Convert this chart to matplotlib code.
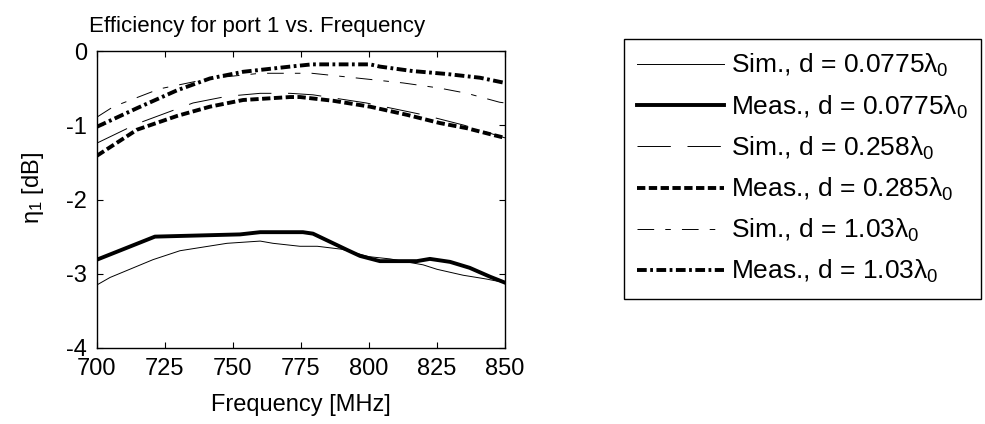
import numpy as np
import matplotlib.pyplot as plt

plt.rcParams['font.family'] = ['Liberation Sans', 'DejaVu Sans']
plt.rcParams['mathtext.fontset'] = 'custom'
plt.rcParams['mathtext.rm'] = 'Liberation Sans'
plt.rcParams['mathtext.it'] = 'Liberation Sans'
plt.rcParams['lines.scale_dashes'] = False
plt.rcParams['axes.unicode_minus'] = False

# Meas., d = 0.0775 lambda0
f_meas_a = [700, 721.3, 752.6, 760, 775.7, 779.4, 792, 796.7, 804, 817.6, 822.4, 829.8, 837, 844.5, 850]
e_meas_a = [-2.81, -2.50, -2.47, -2.44, -2.44, -2.46, -2.68, -2.76, -2.83, -2.83, -2.80, -2.84, -2.92, -3.04, -3.12]
# Sim., d = 0.0775 lambda0
f_sim_a = [700, 704.8, 720.6, 730.5, 747.8, 760, 764.7, 774.6, 781, 790, 800, 807.7, 819.9, 825, 834.6, 843, 850]
e_sim_a = [-3.15, -3.05, -2.81, -2.69, -2.59, -2.56, -2.59, -2.63, -2.63, -2.67, -2.77, -2.80, -2.88, -2.94, -3.02, -3.07, -3.12]
# Sim., d = 0.258 lambda0
f_sim_b = [700, 714.7, 735.3, 747.8, 760, 771, 779.4, 799, 820, 835, 850]
e_sim_b = [-1.24, -0.98, -0.70, -0.61, -0.57, -0.57, -0.59, -0.70, -0.86, -1.00, -1.17]
# Meas., d = 0.285 lambda0
f_meas_b = [700, 714.7, 729.4, 741.5, 753.7, 771, 774.6, 786.8, 800.4, 814, 826, 836, 845.6, 850]
e_meas_b = [-1.41, -1.06, -0.875, -0.75, -0.66, -0.62, -0.62, -0.67, -0.75, -0.86, -0.97, -1.04, -1.13, -1.17]
# Sim., d = 1.03 lambda0
f_sim_c = [700, 706, 723, 741.5, 760, 779, 792, 812.5, 826, 836, 848, 850]
e_sim_c = [-0.89, -0.75, -0.51, -0.37, -0.30, -0.30, -0.35, -0.43, -0.50, -0.57, -0.69, -0.70]
# Meas., d = 1.03 lambda0
f_meas_c = [700, 714.7, 729.4, 741.5, 753.7, 771, 779, 800.4, 804, 816, 828.7, 840.8, 850]
e_meas_c = [-1.02, -0.77, -0.53, -0.37, -0.28, -0.21, -0.18, -0.18, -0.21, -0.27, -0.31, -0.36, -0.43]

fig = plt.figure(figsize=(9.85, 4.24), dpi=100)
ax = fig.add_axes([97/985, 1 - 348/424, 408/985, 297/424])

ax.plot(f_sim_a, e_sim_a, color='black', lw=0.7, label=r'Sim., d = 0.0775$\lambda_0$')
ax.plot(f_meas_a, e_meas_a, color='black', lw=2.8, label=r'Meas., d = 0.0775$\lambda_0$')
ax.plot(f_sim_b, e_sim_b, color='black', lw=0.7, dashes=(24, 12), label=r'Sim., d = 0.258$\lambda_0$')
ax.plot(f_meas_b, e_meas_b, color='black', lw=2.8, dashes=(6, 2.5), label=r'Meas., d = 0.285$\lambda_0$')
ax.plot(f_sim_c, e_sim_c, color='black', lw=0.7, dashes=(12, 8, 4, 8), label=r'Sim., d = 1.03$\lambda_0$')
ax.plot(f_meas_c, e_meas_c, color='black', lw=2.8, dashes=(7, 2.5, 2, 2.5), label=r'Meas., d = 1.03$\lambda_0$')

ax.set_xlim(700, 850)
ax.set_ylim(-4, 0)
ax.set_xticks([700, 725, 750, 775, 800, 825, 850])
ax.set_yticks([-4, -3, -2, -1, 0])
ax.tick_params(direction='in', top=True, right=True, length=4, labelsize=17)
ax.tick_params(axis='x', pad=7)
ax.tick_params(axis='y', pad=7)
for s in ax.spines.values():
    s.set_linewidth(1.0)

ax.set_title('Efficiency for port 1 vs. Frequency', fontsize=16, x=0.392, pad=14)
ax.set_xlabel('Frequency [MHz]', fontsize=17, labelpad=10)
ax.set_ylabel(r'$\eta_1$ [dB]', fontsize=17)
ax.yaxis.set_label_coords(-0.125, 0.54)

leg = fig.legend(loc='upper left', bbox_to_anchor=(624/985, 1 - 39/424), fontsize=19,
                 frameon=True, fancybox=False, edgecolor='black', framealpha=1,
                 handlelength=3.3, handletextpad=0.25, labelspacing=0.53, borderpad=0.5,
                 borderaxespad=0)
leg.get_frame().set_linewidth(1.0)

plt.savefig('out.png', dpi=100)
